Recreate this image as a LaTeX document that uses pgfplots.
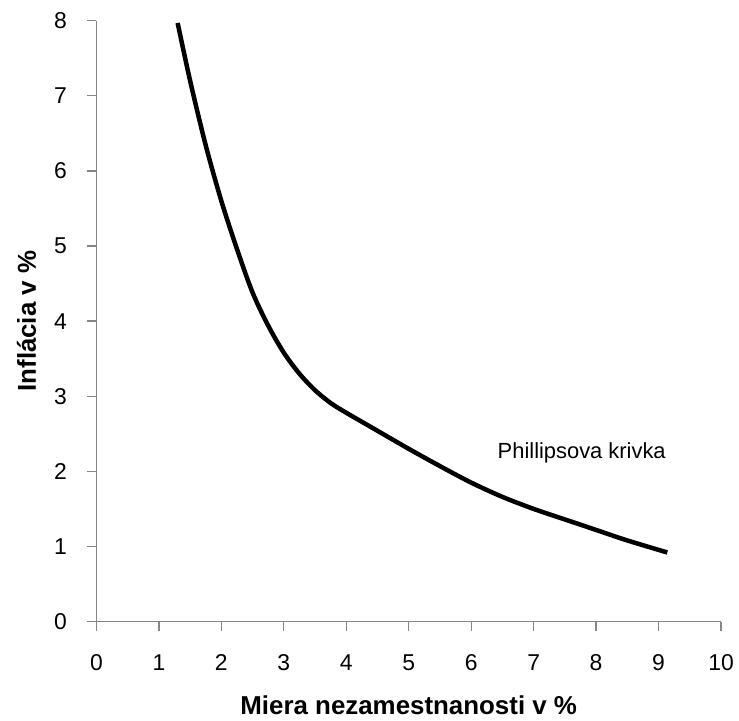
\documentclass[border=0pt]{standalone}
\usepackage{fontspec}
\setmainfont{Liberation Sans}
\usepackage{pgfplots}
\pgfplotsset{compat=1.18}
\definecolor{axisgray}{HTML}{868686}
\begin{document}
\begin{tikzpicture}
\begin{axis}[
  scale only axis, width=625bp, height=601.3bp,
  xmin=0, xmax=10, ymin=0, ymax=8,
  axis lines=left,
  axis line style={draw=axisgray, line width=1.3bp, -},
  xtick={0,...,10}, ytick={0,...,8},
  tick align=outside, major tick length=9bp,
  tick style={draw=axisgray, line width=1.3bp},
  ticklabel style={font=\fontsize{23}{27}\selectfont},
  /pgf/number format/assume math mode=true,
  xticklabel style={anchor=base, inner sep=0pt, yshift=-40bp},
  yticklabel style={anchor=east, inner sep=0pt, xshift=-20.5bp},
  xlabel={Miera nezamestnanosti v \%},
  ylabel={Inflácia v \%},
  xlabel style={at={(axis description cs:0.5,-0.1547)}, anchor=base, font=\fontsize{26}{30}\selectfont\bfseries},
  ylabel style={at={(axis description cs:-0.112,0.5)}, anchor=center, font=\fontsize{26}{30}\selectfont\bfseries},
  clip=false,
]
\addplot[black, line width=4.5bp, smooth] coordinates {
(1.30,7.97) (1.50,7.20) (1.75,6.34) (2.00,5.60) (2.25,4.96) (2.50,4.38)
(2.75,3.94) (3.00,3.58) (3.25,3.30) (3.50,3.08) (3.75,2.91) (4.00,2.78)
(4.50,2.54) (5.00,2.30) (5.50,2.07) (6.00,1.85) (6.50,1.66) (7.00,1.50)
(7.50,1.36) (8.00,1.22) (8.50,1.08) (9.14,0.92)
};
\node[font=\fontsize{22}{26}\selectfont] at (axis cs:7.77,2.25) {Phillipsova krivka};
\end{axis}
\pgfresetboundingbox
\useasboundingbox ([xshift=-96.5bp,yshift=-99bp]current axis.south west) rectangle ([xshift=18bp,yshift=20.7bp]current axis.north east);
\end{tikzpicture}
\end{document}
